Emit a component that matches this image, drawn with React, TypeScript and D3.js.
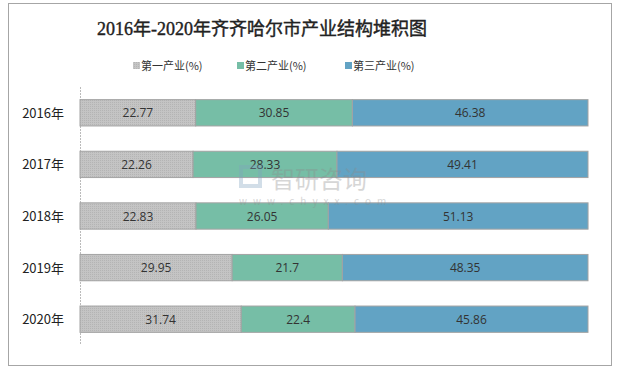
import React from 'react'
import * as d3 from 'd3'

const years = ['2016年', '2017年', '2018年', '2019年', '2020年']
const primary = [22.77, 22.26, 22.83, 29.95, 31.74]
const secondary = [30.85, 28.33, 26.05, 21.7, 22.4]
const tertiary = [46.38, 49.41, 51.13, 48.35, 45.86]
const seriesNames = ['第一产业(%)', '第二产业(%)', '第三产业(%)']
const colors = ['#c0c0c0', '#76bea6', '#62a3c4']

export default function App() {
  const width = 618
  const height = 369

  const rows = years.map((y, i) => ({ year: y, s0: primary[i], s1: secondary[i], s2: tertiary[i] }))
  const stack = d3.stack<any>().keys(['s0', 's1', 's2'])
  const layers = stack(rows)

  const x = d3.scaleLinear().domain([0, 100]).range([80, 588])
  const y = d3.scaleBand().domain(years).range([87, 345]).paddingInner(0.49).paddingOuter(0.245)

  const legendX = [133, 237, 345]

  return (
    <div style={{ position: 'absolute', left: 0, top: 0 }}>
      <svg width={width} height={height} style={{ display: 'block' }}>
        <defs>
          <pattern id="dots" width="2" height="2" patternUnits="userSpaceOnUse">
            <rect width="2" height="2" fill="#c4c4c4" />
            <rect width="1" height="1" fill="#b4b4b4" />
          </pattern>
        </defs>
        <rect x={0} y={0} width={width} height={height} fill="#fff" />
        <rect x={8.5} y={3.5} width={603} height={362} fill="none" stroke="#a6a6a6" />
        <text x={262} y={35} textAnchor="middle" fontSize={18} stroke="#222" strokeWidth={0.4}
          fontFamily="'Liberation Serif', 'Noto Sans CJK SC', serif" fill="#222">
          2016年-2020年齐齐哈尔市产业结构堆积图
        </text>

        {seriesNames.map((name, i) => (
          <g key={name}>
            <rect x={legendX[i]} y={62} width={7} height={7} fill={i === 0 ? 'url(#dots)' : colors[i]} />
            <text x={legendX[i] + 8} y={69.5} fontSize={11} fill="#333"
              fontFamily="'Noto Sans CJK SC', sans-serif">{name}</text>
          </g>
        ))}

        <line x1={80.5} x2={80.5} y1={87} y2={345} stroke="#bbb" strokeDasharray="2,1" />

        {years.map(yr => (
          <text key={yr} x={64} y={y(yr)! + y.bandwidth() / 2 + 5} textAnchor="end" fontSize={13}
            fill="#222" fontFamily="'Noto Sans CJK SC', sans-serif">{yr}</text>
        ))}

        {layers.map((layer, li) => (
          <g key={layer.key}>
            {layer.map((d, i) => (
              <g key={i}>
                <rect x={x(d[0])} y={y(years[i])} width={x(d[1]) - x(d[0])} height={y.bandwidth()}
                  fill={li === 0 ? 'url(#dots)' : colors[li]} stroke="#a3a3a3" strokeWidth={1} />
                <text x={(x(d[0]) + x(d[1])) / 2} y={y(years[i])! + y.bandwidth() / 2 + 4.5}
                  textAnchor="middle" fontSize={12} fill="#333"
                  fontFamily="'Open Sans', 'DejaVu Sans', sans-serif">{+(d[1] - d[0]).toFixed(2)}</text>
              </g>
            ))}
          </g>
        ))}

        <g opacity={0.35} fontFamily="'Noto Sans CJK SC', sans-serif">
          <rect x={241} y={167} width={19} height={19} fill="none" stroke="#7fa3bf" strokeWidth={4} />
          <text x={271} y={188} fontSize={24} fill="#8c8c8c">智研咨询</text>
          <text x={239} y={205} fontSize={10} fill="#8c8c8c" letterSpacing={6}>www.chyxx.com</text>
        </g>
      </svg>
    </div>
  )
}
